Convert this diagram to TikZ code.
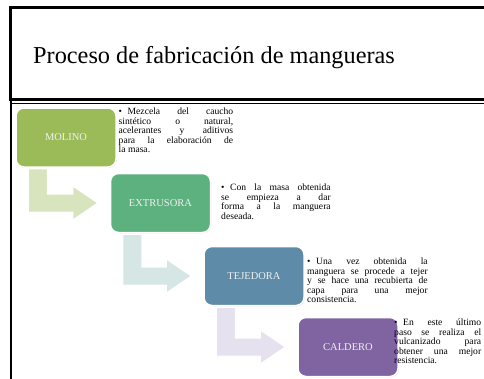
\documentclass[tikz,border=0pt]{standalone}
\usepackage{fontspec}
\setmainfont{Liberation Serif}
\usetikzlibrary{calc,shadows}

\definecolor{molinoc}{HTML}{9BBB59}
\definecolor{extrusorac}{HTML}{5DB17F}
\definecolor{tejedorac}{HTML}{5E8BA8}
\definecolor{calderoc}{HTML}{8064A2}
\definecolor{arrowA}{HTML}{D7E4BD}
\definecolor{arrowB}{HTML}{D6E6E5}
\definecolor{arrowC}{HTML}{E6E1EE}

\tikzset{
  stepbox/.style={rectangle, rounded corners=8pt, draw=white, line width=1.5pt,
    minimum width=100pt, minimum height=59pt, text=white!94!black,
    font=\fontsize{10.5}{12}\selectfont,
    drop shadow={opacity=0.25, shadow xshift=0.8pt, shadow yshift=-0.8pt}},
  desc/.style={anchor=north west, inner sep=0pt, align=justify,
    font=\fontsize{9.6}{9.4}\selectfont}
}

% bent arrow from one box down and right to the next one
\newcommand\bendarrow[3]{%
  \filldraw[fill=#3, draw=white, line width=1pt]
    ($(#1.south west)+(13,1)$) -- ($(#1.south west)+(32,1)$)
    -- ($(#1.south west |- #2.west)+(32,-9)$)
    -- ($(#2.west)+(-37,-9)$) -- ($(#2.west)+(-37,-17)$)
    -- ($(#2.west)+(-12,0)$)
    -- ($(#2.west)+(-37,17)$) -- ($(#2.west)+(-37,9)$)
    -- ($(#1.south west |- #2.west)+(13,9)$) -- cycle;}

\newcommand\bul{\hangindent=9pt\hangafter=1\makebox[9pt][l]{\textbullet}}

\begin{document}
\begin{tikzpicture}[x=1pt,y=-1pt]
\useasboundingbox (0,0) rectangle (484,378);
\clip (0,0) rectangle (484,378);
% frames
\draw[line width=1.5pt] (11,101) -- (11,380);
\draw[line width=0.6pt] (11,103) -- (490,103);
\draw[line width=3.5pt] (10.5,7.5) rectangle (560,99.5);
\node[anchor=base west, inner sep=0pt, font=\fontsize{24.3}{28}\selectfont]
  (title) at (33,63) {Proceso de fabricación de mangueras};

% steps
\node[stepbox, fill=molinoc] (molino) at (66,137.5) {MOLINO};
\node[stepbox, fill=extrusorac] (extrusora) at (160.5,203) {EXTRUSORA};
\node[stepbox, fill=tejedorac] (tejedora) at (254,276) {TEJEDORA};
\node[stepbox, fill=calderoc] (caldero) at (348,347) {CALDERO};

\foreach \a/\b/\c in {molino/extrusora/arrowA, extrusora/tejedora/arrowB, tejedora/caldero/arrowC}
{
  \bendarrow{\a}{\b}{\c}
}

% descriptions
\node[desc, text width=114.5pt] (molinotxt) at (118.5,108)
  {\bul Mezcela del caucho\linebreak sintético o natural,\linebreak acelerantes y aditivos\linebreak para la elaboración de\linebreak la masa.};
\node[desc, text width=109.5pt] (extrusoratxt) at (221,184)
  {\bul Con la masa obtenida\linebreak se empieza a dar\linebreak forma a la manguera\linebreak deseada.};
\node[desc, text width=120.5pt] (tejedoratxt) at (307,258)
  {\bul Una vez obtenida la\linebreak manguera se procede a tejer\linebreak y se hace una recubierta de\linebreak capa para una mejor\linebreak consistencia.};
\node[desc, text width=87pt] (calderotxt) at (394,319)
  {\bul En este último\linebreak paso se realiza el\linebreak vulcanizado para\linebreak obtener una mejor\linebreak resistencia.};
\end{tikzpicture}
\end{document}
